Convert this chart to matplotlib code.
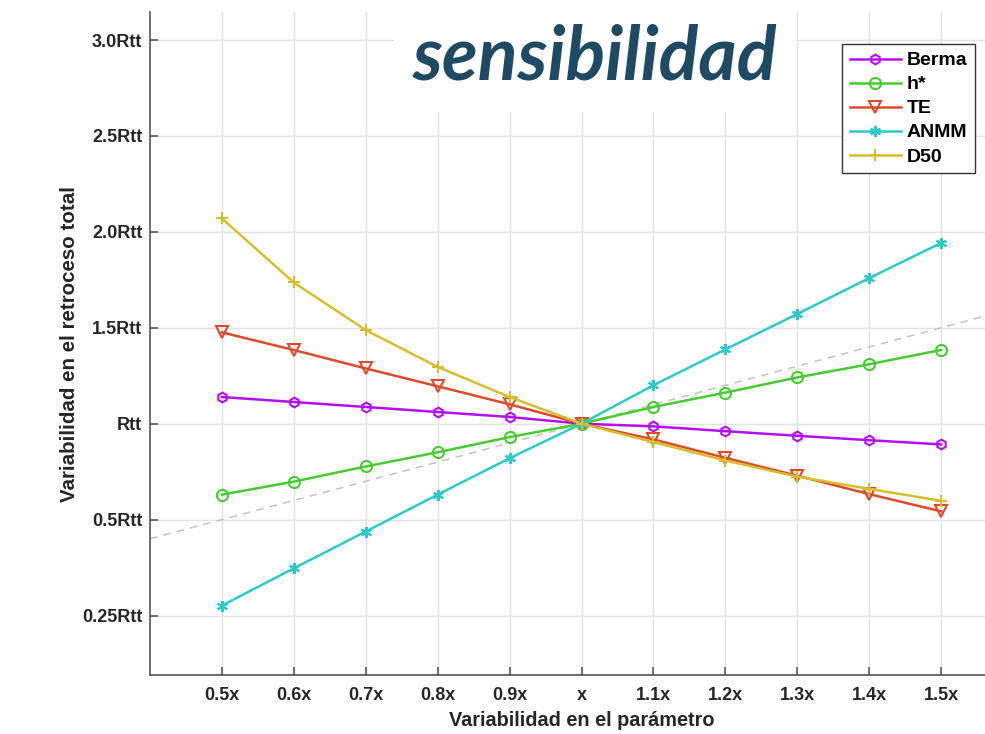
import matplotlib
matplotlib.use("Agg")
import matplotlib.pyplot as plt
import numpy as np

plt.rcParams['font.family'] = ['Liberation Sans', 'DejaVu Sans']
plt.rcParams['font.weight'] = 'bold'

# datos
param = [0.5, 0.6, 0.7, 0.8, 0.9, 1.0, 1.1, 1.2, 1.3, 1.4, 1.5]
x_labels = ['0.5x', '0.6x', '0.7x', '0.8x', '0.9x', 'x', '1.1x', '1.2x', '1.3x', '1.4x', '1.5x']

berma = [1.139, 1.113, 1.087, 1.061, 1.035, 1.0, 0.986, 0.961, 0.937, 0.914, 0.892]
h_star = [0.630, 0.698, 0.777, 0.851, 0.930, 1.0, 1.087, 1.162, 1.241, 1.310, 1.384]
te = [1.476, 1.384, 1.288, 1.195, 1.101, 1.0, 0.918, 0.822, 0.729, 0.633, 0.543]
anmm = [0.052, 0.246, 0.438, 0.630, 0.820, 1.0, 1.2005, 1.387, 1.572, 1.759, 1.942]
d50 = [2.070, 1.736, 1.488, 1.296, 1.139, 1.0, 0.904, 0.808, 0.724, 0.660, 0.598]

y_ticks = [0, 0.5, 1, 1.5, 2, 2.5, 3]
y_labels = ['0.25Rtt', '0.5Rtt', 'Rtt', '1.5Rtt', '2.0Rtt', '2.5Rtt', '3.0Rtt']

asterisk = (6, 2, 0)
series = [
    ('Berma', berma, '#b40ef2', 'h', 7),
    ('h*', h_star, '#45cc2e', 'o', 8),
    ('TE', te, '#de4a2c', 'v', 8),
    ('ANMM', anmm, '#2ccaca', asterisk, 8),
    ('D50', d50, '#d6be2c', '+', 9),
]

fig = plt.figure(figsize=(9.85, 7.34), dpi=100)
# el eje continúa más allá del borde derecho de la imagen
ax = fig.add_axes([150 / 985, 1 - 675 / 734, 863 / 985, 663 / 734])

# línea de referencia y = x
ax.axline((1, 1), slope=1, color='#c4c4c4', lw=1.1, ls=(0, (5, 4)), zorder=1)

for name, vals, color, mk, ms in series:
    ax.plot(param, vals, color=color, lw=1.8, marker=mk, markersize=ms,
            markerfacecolor='none' if mk in ('h', 'o', 'v') else color,
            markeredgewidth=1.5, label=name, zorder=3)

ax.set_xlim(0.4, 1.6)
ax.set_ylim(-0.31, 3.146)
ax.set_xticks(param)
ax.set_xticklabels(x_labels)
ax.set_yticks(y_ticks)
ax.set_yticklabels(y_labels)

ax.grid(True, color='#e3e3e3', lw=1)
ax.set_axisbelow(True)
for side in ['top', 'right']:
    ax.spines[side].set_visible(False)
for side in ['left', 'bottom']:
    ax.spines[side].set_color('#555555')
    ax.spines[side].set_linewidth(1.2)
ax.tick_params(direction='in', length=6, width=1.2, color='#555555',
               labelsize=13, labelcolor='#262626')
ax.tick_params(axis='y', pad=5.5)
ax.tick_params(axis='x', pad=9)

ax.set_xlabel('Variabilidad en el parámetro', fontsize=14.3, fontweight='bold',
              color='#262626', labelpad=5)
ax.set_ylabel('Variabilidad en el retroceso total', fontsize=14.8, fontweight='bold',
              color='#262626', labelpad=2)

# esquina superior derecha de la leyenda en (975, 44) px
leg_x = (975 - 150) / 863
leg_y = 1 - (44 - 12) / 663
leg = ax.legend(loc='upper right', bbox_to_anchor=(leg_x, leg_y), borderaxespad=0,
                fancybox=False, edgecolor='#333333', framealpha=1, fontsize=14,
                handlelength=2.6, labelspacing=0.33, handletextpad=0.3, borderpad=0.4)
leg.get_frame().set_linewidth(1.0)

ax.text((595 - 150) / 863, 1 - (58 - 12) / 663, 'sensibilidad',
        transform=ax.transAxes, ha='center', va='center', fontsize=53,
        family='Lato', weight='bold', style='italic', color='#1f4a63', zorder=5,
        bbox=dict(facecolor='white', edgecolor='none', pad=14))

fig.savefig('out.png', dpi=100)
